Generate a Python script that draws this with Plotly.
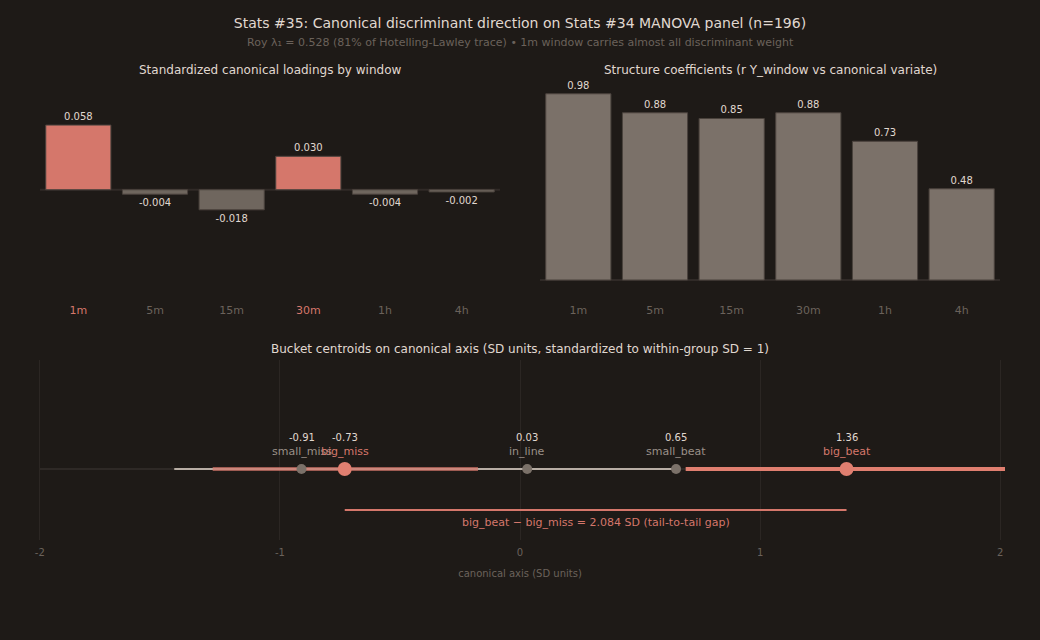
import plotly.graph_objects as go
from plotly.subplots import make_subplots

windows = ["1m", "5m", "15m", "30m", "1h", "4h"]
loadings = [0.058, -0.004, -0.018, 0.030, -0.004, -0.002]
structure = [0.98, 0.88, 0.85, 0.88, 0.73, 0.48]

buckets = ["small_miss", "big_miss", "in_line", "small_beat", "big_beat"]
centroids = [-0.91, -0.73, 0.03, 0.65, 1.36]
interval_lo = [-1.44, -1.28, -0.45, 0.10, 0.69]
interval_hi = [-0.38, -0.175, 0.56, 0.65, 2.06]
highlight = ["big_miss", "big_beat"]
gap_sd = 2.084

axis_ticks = [-2, -1, 0, 1, 2]

BG = "#1e1a17"
RED = "#d5776b"
RED_HI = "#e07f70"
GREY = "#7b7169"
GREY_DARK = "#6f665e"
TXT = "#e0d8d0"
MUTED = "#6b625b"
GRID = "#2b2623"

fig = make_subplots(
    rows=2, cols=2,
    specs=[[{}, {}], [{"colspan": 2}, None]],
    subplot_titles=[
        "Standardized canonical loadings by window",
        "Structure coefficients (r Y_window vs canonical variate)",
        "Bucket centroids on canonical axis (SD units, standardized to within-group SD = 1)",
    ],
)

# top left: loadings
load_colors = [RED if v > 0 else GREY_DARK for v in loadings]
fig.add_trace(go.Bar(
    x=windows, y=loadings,
    marker=dict(color=load_colors, line=dict(color="#4a423d", width=1)),
    text=[f"{v:.3f}" for v in loadings], textposition="outside",
    textfont=dict(color=TXT, size=10), cliponaxis=False,
    showlegend=False,
), row=1, col=1)

# top right: structure coefficients
fig.add_trace(go.Bar(
    x=windows, y=structure,
    marker=dict(color=GREY, line=dict(color="#4a423d", width=1)),
    text=[f"{v:.2f}" for v in structure], textposition="outside",
    textfont=dict(color=TXT, size=10), cliponaxis=False,
    showlegend=False,
), row=1, col=2)

# bottom: baseline
fig.add_trace(go.Scatter(
    x=[-2, 2], y=[0, 0], mode="lines",
    line=dict(color="#2e2926", width=2), hoverinfo="skip", showlegend=False,
), row=2, col=1)

# intervals: grey first, then highlighted on top
order = [i for i, b in enumerate(buckets) if b not in highlight] + \
        [i for i, b in enumerate(buckets) if b in highlight]
for i in order:
    b = buckets[i]
    if b == "big_miss":
        lc, lw, op = RED, 4, 0.7
    elif b == "big_beat":
        lc, lw, op = RED_HI, 4, 1.0
    else:
        lc, lw, op = "#b8aea5", 2, 1.0
    fig.add_trace(go.Scatter(
        x=[interval_lo[i], interval_hi[i]], y=[0, 0], mode="lines",
        line=dict(color=lc, width=lw), opacity=op,
        hoverinfo="skip", showlegend=False,
    ), row=2, col=1)

for i in order:
    b = buckets[i]
    big = b in highlight
    fig.add_trace(go.Scatter(
        x=[centroids[i]], y=[0], mode="markers",
        marker=dict(size=14 if big else 10, color=RED_HI if big else GREY),
        name=b, showlegend=False,
    ), row=2, col=1)
    fig.add_annotation(
        x=centroids[i], y=0, xref="x3", yref="y3", yshift=31,
        text=f"{centroids[i]:.2f}", showarrow=False,
        font=dict(color=TXT, size=10),
    )
    fig.add_annotation(
        x=centroids[i], y=0, xref="x3", yref="y3", yshift=17,
        text=b, showarrow=False,
        font=dict(color=RED if big else "#9a9088", size=11),
    )

# tail-to-tail gap bracket
x_miss = centroids[buckets.index("big_miss")]
x_beat = centroids[buckets.index("big_beat")]
fig.add_trace(go.Scatter(
    x=[x_miss, x_beat], y=[-0.41, -0.41], mode="lines",
    line=dict(color=RED, width=2), hoverinfo="skip", showlegend=False,
), row=2, col=1)
fig.add_annotation(
    x=(x_miss + x_beat) / 2, y=-0.41, xref="x3", yref="y3", yshift=-12,
    text=f"big_beat \u2212 big_miss = {gap_sd:.3f} SD (tail-to-tail gap)",
    showarrow=False, font=dict(color=RED, size=11),
)

# plot area spans 60..580 px vertically (t=60, b=60), 35..1005 horizontally
title_pos = [(235 / 970, 0.9808), (735 / 970, 0.9808), (0.5, 0.4442)]
for ann, (ax, ay) in zip(fig.layout.annotations[:3], title_pos):
    ann.font = dict(color=TXT, size=12)
    ann.yanchor = "middle"
    ann.x = ax
    ann.y = ay

fig.add_annotation(
    text="Roy \u03bb\u2081 = 0.528 (81% of Hotelling-Lawley trace) "
         "\u2022 1m window carries almost all discriminant weight",
    xref="paper", yref="paper", x=0.5, y=1.0346, yanchor="middle",
    showarrow=False, font=dict(color=MUTED, size=11),
)

tick_left = [f"<span style='color:{RED}'>{w}</span>" if v > 0 else w
             for w, v in zip(windows, loadings)]

fig.update_layout(
    width=1040, height=640,
    paper_bgcolor=BG, plot_bgcolor=BG,
    font=dict(family="DejaVu Sans", color=MUTED, size=11),
    margin=dict(l=35, r=35, t=60, b=60),
    title=dict(
        text="Stats #35: Canonical discriminant direction on Stats #34 MANOVA panel (n=196)",
        x=0.5, xanchor="center", y=1 - 23 / 640, yanchor="middle",
        font=dict(color=TXT, size=14),
    ),
    bargap=0.15,
    xaxis=dict(domain=[5 / 970, 465 / 970], tickvals=windows, ticktext=tick_left,
               showgrid=False, showline=False, ticklabelstandoff=3,
               tickfont=dict(color=MUTED, size=11)),
    yaxis=dict(domain=[0.5404, 0.9606], range=[-0.098, 0.098], visible=False),
    xaxis2=dict(domain=[505 / 970, 965 / 970], showgrid=False, showline=False,
                ticklabelstandoff=3, tickfont=dict(color=MUTED, size=11)),
    yaxis2=dict(domain=[0.5404, 0.9606], range=[-0.1, 1.05], visible=False),
    xaxis3=dict(domain=[0, 1], range=[-2.02, 2.02], tickvals=axis_ticks,
                ticktext=[str(t) for t in axis_ticks],
                showgrid=True, gridcolor=GRID, zeroline=False, showline=False,
                ticklabelstandoff=5,
                tickfont=dict(color=MUTED, size=10),
                title=dict(text="canonical axis (SD units)", font=dict(color=MUTED, size=10),
                           standoff=12)),
    yaxis3=dict(domain=[0.0769, 0.4231], range=[-0.71, 1.09], visible=False),
)
fig.update_yaxes(showgrid=False)

# zero baselines for bar panels
fig.add_shape(type="line", xref="x domain", yref="y", x0=0, x1=1, y0=0, y1=0,
              line=dict(color="#302a27", width=2), layer="below")
fig.add_shape(type="line", xref="x2 domain", yref="y2", x0=0, x1=1, y0=0, y1=0,
              line=dict(color="#302a27", width=2), layer="below")

fig.write_html("out.html", config={"displayModeBar": False},
               post_script="document.body.style.margin='0';"
                           "document.body.style.background='#1e1a17';")
